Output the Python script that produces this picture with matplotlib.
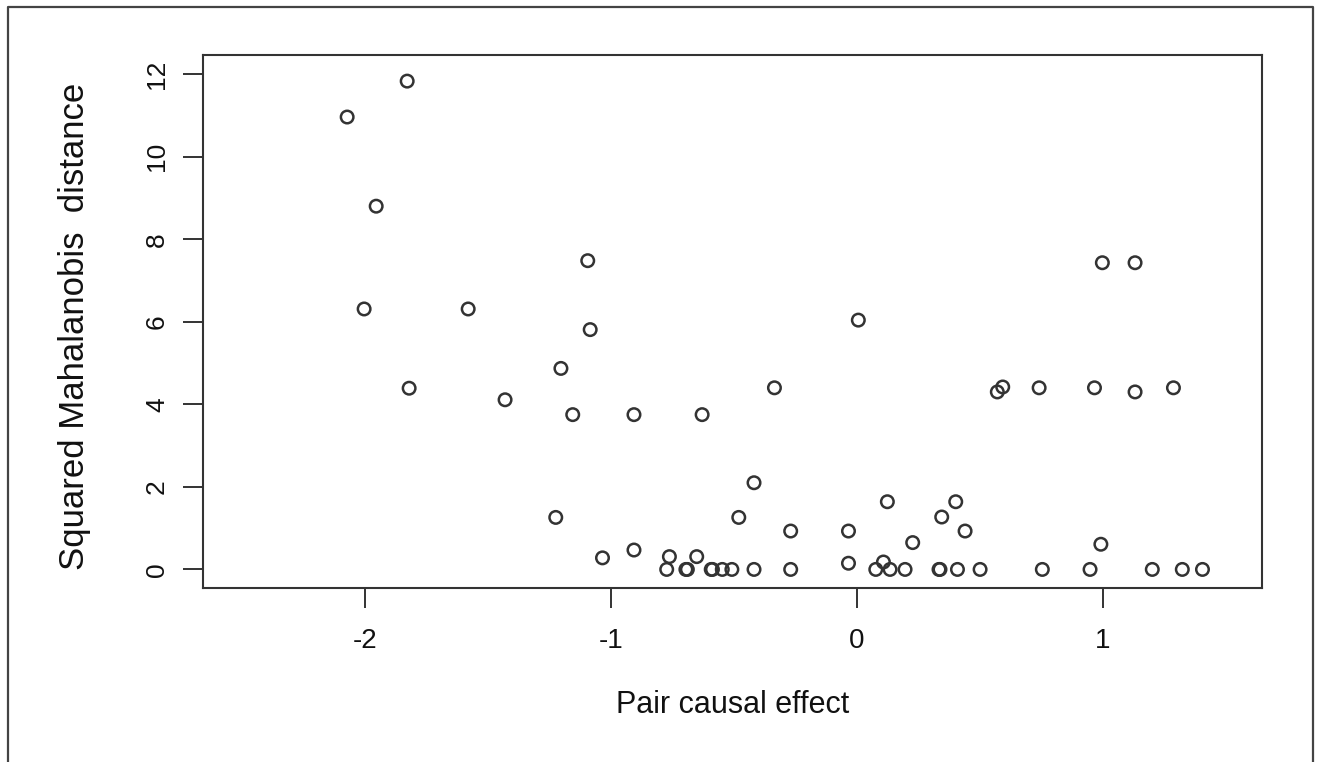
import numpy as np
import matplotlib.pyplot as plt
from matplotlib.lines import Line2D

plt.rcParams['font.family'] = ['Liberation Sans', 'DejaVu Sans']

# pair causal effect (x) and squared Mahalanobis distance (y)
effect = [-2.073, -1.829, -1.955, -2.004, -1.581, -1.821, -1.431,
          -1.095, -1.085, -1.204, -1.156, -0.907, -0.630, -0.336,
          -0.419, -0.481, -1.225, -1.035, -0.907, -0.763, -0.652,
          -0.774, -0.696, -0.690, -0.593, -0.588, -0.548, -0.509, -0.419,
          0.005, 0.570, 0.592, 0.123, 0.401, 0.344, -0.270, -0.035,
          0.439, 0.226, -0.035, 0.107,
          -0.270, 0.076, 0.134, 0.195, 0.333, 0.337, 0.408, 0.500,
          0.997, 1.130, 0.740, 0.965, 1.130, 1.286, 0.991,
          0.753, 0.947, 1.200, 1.322, 1.404]
dist = [10.96, 11.83, 8.80, 6.31, 6.31, 4.39, 4.11,
        7.48, 5.81, 4.87, 3.75, 3.75, 3.75, 4.40,
        2.10, 1.26, 1.26, 0.28, 0.47, 0.31, 0.31,
        0, 0, 0, 0, 0, 0, 0, 0,
        6.04, 4.30, 4.42, 1.64, 1.64, 1.27, 0.93, 0.93,
        0.93, 0.65, 0.15, 0.18,
        0, 0, 0, 0, 0, 0, 0, 0,
        7.43, 7.43, 4.40, 4.40, 4.30, 4.40, 0.61,
        0, 0, 0, 0, 0]

xticks = [-2, -1, 0, 1]
yticks = [0, 2, 4, 6, 8, 10, 12]

fig = plt.figure(figsize=(13.21, 7.62), dpi=100)
ax = fig.add_axes([203/1321, 1-588/762, (1262-203)/1321, (588-54.7)/762])

ax.scatter(effect, dist, s=81, facecolors='none', edgecolors='#333333',
           linewidths=1.8, zorder=3)

ax.set_xlim(-2.659, 1.646)
ax.set_ylim(-0.45, 12.47)
ax.set_xticks(xticks)
ax.set_xticklabels(['-2', '-1', '0', '1'])
ax.set_yticks(yticks)

for sp in ax.spines.values():
    sp.set_linewidth(1.5)
    sp.set_color('#333333')

ax.tick_params(axis='both', length=14.5, width=1.4, color='#333333',
               labelsize=19, labelcolor='#111111')
ax.tick_params(axis='x', pad=14, labelsize=20)
ax.tick_params(axis='y', pad=10, labelrotation=90)
for lab in ax.get_yticklabels():
    lab.set_va('center')

ax.set_xlabel('Pair causal effect', fontsize=22, color='#111111')
ax.xaxis.set_label_coords(0.5, -0.2194)
ax.xaxis.label.set_va('center')
ax.set_ylabel('Squared Mahalanobis  distance', fontsize=25, color='#111111')
ax.yaxis.set_label_coords(-0.1209, 0.49)
ax.yaxis.label.set_va('center')

# outer frame (left, top, right)
fx = [8/1321, 8/1321, 1313/1321, 1313/1321]
fy = [0, 1-7/762, 1-7/762, 0]
fig.add_artist(Line2D(fx, fy, transform=fig.transFigure, color='#444444',
                      linewidth=1.6))

fig.savefig('out.png', dpi=100)
